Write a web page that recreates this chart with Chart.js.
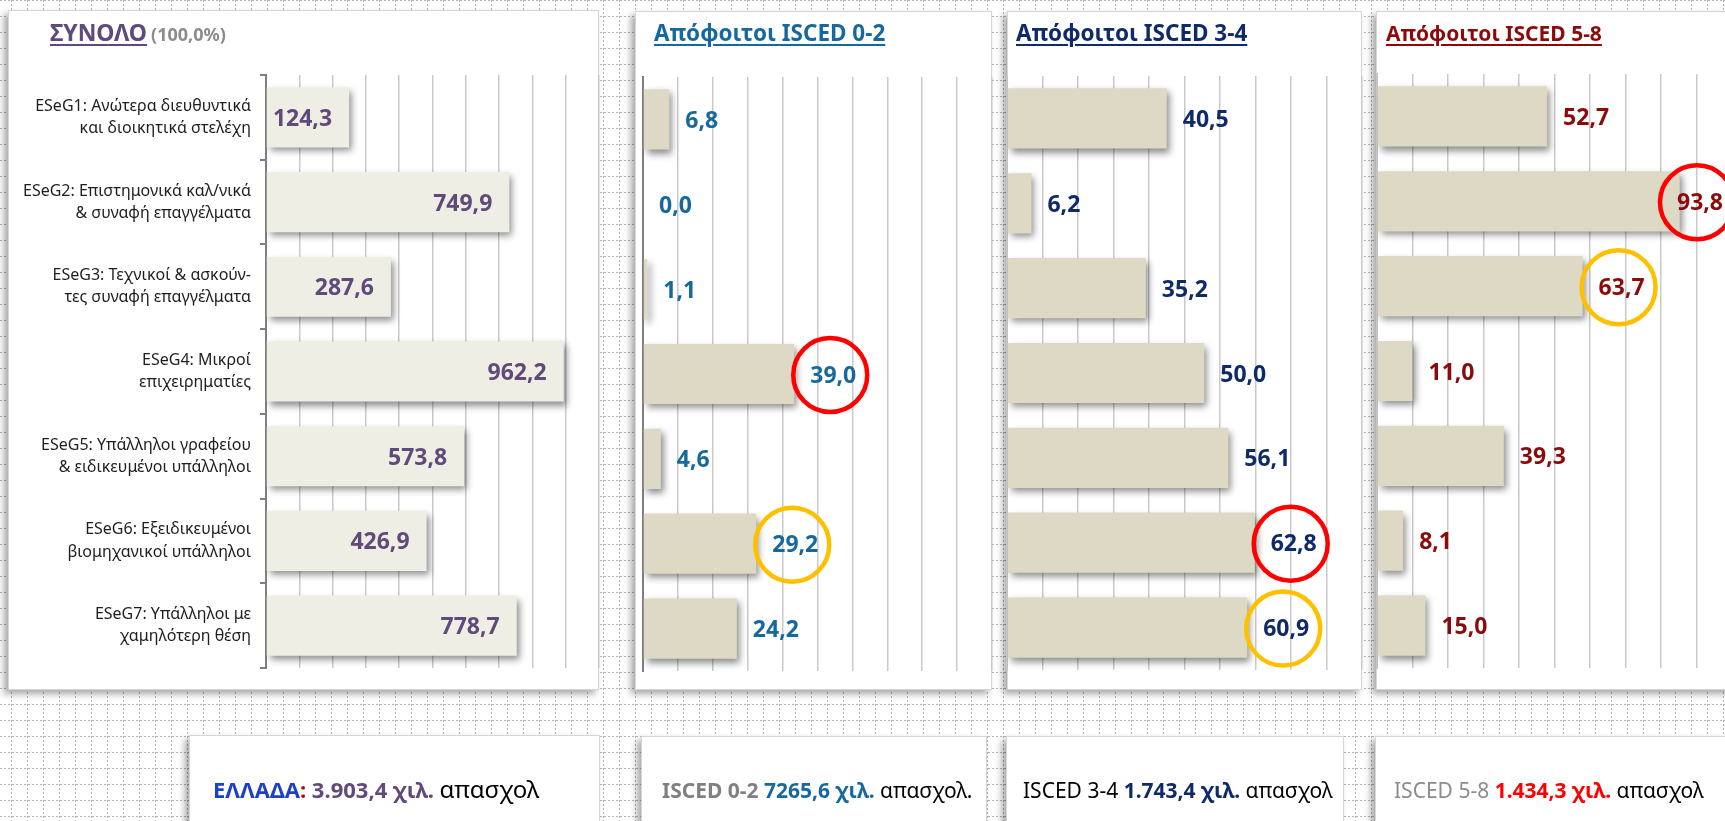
<!DOCTYPE html>
<html lang="el">
<head>
<meta charset="utf-8">
<title>Απασχολούμενοι ανά ομάδα ESeG και επίπεδο εκπαίδευσης</title>
<script src="https://cdn.jsdelivr.net/npm/chart.js@4.4.1/dist/chart.umd.min.js"></script>
<style>
  html, body { margin: 0; padding: 0; }
  body {
    width: 1725px; height: 821px; overflow: hidden; position: relative;
    background: #fff; font-family: "Noto Sans", "Open Sans", sans-serif;
  }
  #dots { position: absolute; left: 0; top: 0; }
  .panel, .box {
    position: absolute; background: #fff; box-sizing: border-box;
    border: 1px solid #d6d6d6;
    box-shadow: -4px 4px 7px rgba(0, 0, 0, 0.35);
  }
  .title {
    position: absolute; top: 9px; line-height: 24px; white-space: nowrap;
    font-size: 22.5px; font-weight: 700;
  }
  .title u { text-decoration-thickness: 2px; text-underline-offset: 3px; }
  .title small { font-size: 18px; color: #8c8c8c; margin-left: 4px; }
  canvas.chart { position: absolute; }
  .box .txt {
    position: absolute; top: 39px; white-space: nowrap;
    font-size: 21px; line-height: 28px; color: #000;
  }
</style>
</head>
<body>
<canvas id="dots" width="1725" height="821"></canvas>

<div class="panel" style="left:8px;top:10px;width:591px;height:680px">
  <div class="title" style="left:41px;color:#604a7b;font-size:23px"><u>ΣΥΝΟΛΟ</u><small>(100,0%)</small></div>
</div>
<div class="panel" style="left:635px;top:11px;width:357px;height:679px">
  <div class="title" style="left:18px;color:#17699d"><u>Απόφοιτοι ISCED 0-2</u></div>
</div>
<div class="panel" style="left:1007px;top:11px;width:355px;height:679px">
  <div class="title" style="left:8px;color:#0f2a68"><u>Απόφοιτοι ISCED 3-4</u></div>
</div>
<div class="panel" style="left:1376px;top:11px;width:360px;height:679px">
  <div class="title" style="left:9px;color:#8b0b0b;font-size:21px"><u>Απόφοιτοι ISCED 5-8</u></div>
</div>

<canvas class="chart" id="chTotal" width="592" height="606" style="left:10px;top:68px"></canvas>
<canvas class="chart" id="chLow" width="358" height="607" style="left:638px;top:70px"></canvas>
<canvas class="chart" id="chMid" width="363" height="607" style="left:1003px;top:69px"></canvas>
<canvas class="chart" id="chHigh" width="364" height="607" style="left:1373px;top:67px"></canvas>

<div class="box" style="left:189px;top:735px;width:411px;height:100px">
  <span class="txt" style="left:23px;font-size:22px"><b style="color:#1c3fcc">ΕΛΛΑΔΑ</b><b style="color:#9c1010">:</b>
    <b style="color:#604a7b" id="tot0"></b> <span style="font-size:24px">απασχολ</span></span>
</div>
<div class="box" style="left:641px;top:736px;width:346px;height:100px">
  <span class="txt" style="left:20px"><b style="color:#808080">ISCED 0-2</b>
    <b style="color:#17699d" id="tot1"></b> απασχολ.</span>
</div>
<div class="box" style="left:1006px;top:736px;width:338px;height:100px">
  <span class="txt" style="left:16px">ISCED 3-4 <b style="color:#0f2a68" id="tot2"></b> απασχολ</span>
</div>
<div class="box" style="left:1375px;top:736px;width:360px;height:100px">
  <span class="txt" style="left:18px"><span style="color:#8c8c8c">ISCED 5-8</span>
    <b style="color:#ff0000" id="tot3"></b> απασχολ</span>
</div>

<script>
// ESeG groups (two-line axis labels)
const categories = [
  ['ESeG1: Ανώτερα διευθυντικά', 'και διοικητικά στελέχη'],
  ['ESeG2: Επιστημονικά καλ/νικά', '& συναφή επαγγέλματα'],
  ['ESeG3: Τεχνικοί & ασκούν-', 'τες συναφή επαγγέλματα'],
  ['ESeG4: Μικροί', 'επιχειρηματίες'],
  ['ESeG5: Υπάλληλοι γραφείου', '& ειδικευμένοι υπάλληλοι'],
  ['ESeG6: Εξειδικευμένοι', 'βιομηχανικοί υπάλληλοι'],
  ['ESeG7: Υπάλληλοι με', 'χαμηλότερη θέση']
];

// employed, thousands
const totalEmployed = [124.3, 749.9, 287.6, 962.2, 573.8, 426.9, 778.7];
const iscedLow = [6.8, 0.0, 1.1, 39.0, 4.6, 29.2, 24.2];     // ISCED 0-2
const iscedMid = [40.5, 6.2, 35.2, 50.0, 56.1, 62.8, 60.9];  // ISCED 3-4
const iscedHigh = [52.7, 93.8, 63.7, 11.0, 39.3, 8.1, 15.0]; // ISCED 5-8

// circled groups per panel: [red, yellow]
const ringsLow = [3, 5];
const ringsMid = [5, 6];
const ringsHigh = [1, 2];

const footerTotals = ['3.903,4', '7265,6', '1.743,4', '1.434,3'];
footerTotals.forEach((t, i) => {
  document.getElementById('tot' + i).textContent = t + ' χιλ.';
});

// dotted sheet grid behind the panels
(function () {
  const c = document.getElementById('dots').getContext('2d');
  c.strokeStyle = '#b4b4b4';
  c.lineWidth = 1;
  c.setLineDash([2, 2]);
  c.beginPath();
  for (let x = 11; x < 1725; x += 16) { c.moveTo(x + 0.5, 0); c.lineTo(x + 0.5, 821); }
  for (let y = 0; y < 821; y += 16) { c.moveTo(0, y + 0.5); c.lineTo(1725, y + 0.5); }
  c.stroke();
})();

const fmt = v => v.toFixed(1).replace('.', ',');
const LABEL_FONT = '700 23px "Noto Sans"';

// soft shadow under bars, value labels and hand-drawn rings
const barDecor = {
  id: 'barDecor',
  beforeDatasetsDraw(chart) {
    const ctx = chart.ctx;
    ctx.save();
    ctx.shadowColor = 'rgba(0,0,0,0.45)';
    ctx.shadowBlur = 7;
    ctx.shadowOffsetX = 3;
    ctx.shadowOffsetY = 4;
  },
  afterDatasetsDraw(chart, args, opts) {
    const ctx = chart.ctx;
    ctx.restore();
    const data = chart.data.datasets[0].data;
    const rings = opts.rings || [];
    ctx.save();
    ctx.font = LABEL_FONT;
    chart.getDatasetMeta(0).data.forEach((bar, i) => {
      const text = fmt(data[i]);
      const w = ctx.measureText(text).width;
      let x;
      if (opts.inside) {
        x = bar.x - 17 - w;
      } else {
        x = Math.min(bar.x + 16, chart.chartArea.right - 9 - w);
      }
      const ring = rings.indexOf(i);
      if (ring >= 0) {
        ctx.beginPath();
        ctx.arc(x + 20, bar.y + 1, 37, 0, Math.PI * 2);
        ctx.lineWidth = 4.5;
        ctx.strokeStyle = ring === 0 ? '#ff0000' : '#ffc000';
        ctx.stroke();
      }
      ctx.fillStyle = opts.color;
      ctx.textAlign = 'left';
      ctx.textBaseline = 'alphabetic';
      ctx.fillText(text, x, bar.y + 8.5);
    });
    ctx.restore();
  }
};

function buildChart(id, cfg) {
  const labelsShown = !!cfg.axisWidth;
  return new Chart(document.getElementById(id), {
    type: 'bar',
    data: {
      labels: categories,
      datasets: [{
        data: cfg.values,
        base: cfg.min,   // bars grow from where the category axis crosses
        backgroundColor: cfg.fill,
        borderWidth: 0,
        barPercentage: 0.71,
        categoryPercentage: 1
      }]
    },
    options: {
      indexAxis: 'y',
      responsive: false,
      animation: false,
      layout: { padding: cfg.pad },
      plugins: {
        legend: { display: false },
        tooltip: { enabled: false },
        barDecor: { color: cfg.color, inside: cfg.inside, rings: cfg.rings }
      },
      scales: {
        x: {
          min: cfg.min, max: cfg.max,
          ticks: { display: false, stepSize: cfg.step },
          grid: { color: '#c9c9c9', lineWidth: 1.5, drawTicks: false },
          border: { display: false },
          afterFit: s => { s.height = 0; }
        },
        y: {
          ticks: labelsShown
            ? { color: '#1e1e1e', padding: 9, font: { family: 'Noto Sans', size: 16, lineHeight: 1.38 } }
            : { display: false },
          grid: labelsShown
            ? { drawOnChartArea: false, tickLength: 6, color: '#7f7f7f', lineWidth: 2 }
            : { display: false },
          border: { display: true, color: cfg.axisColor, width: 2 },
          afterFit: s => {
            s.width = cfg.axisWidth || 0;
            s.paddingTop = 0;
            s.paddingBottom = 0;
          }
        }
      }
    },
    plugins: [barDecor]
  });
}

document.fonts.load(LABEL_FONT).then(() => {
  buildChart('chTotal', {
    values: totalEmployed, fill: '#efeee5', color: '#604a7b', inside: true,
    min: -200, max: 1100, step: 130, axisWidth: 256, axisColor: '#7f7f7f',
    pad: { left: 0, right: 3, top: 7, bottom: 6 }
  });
  buildChart('chLow', {
    values: iscedLow, fill: '#ddd9c4', color: '#17699d', rings: ringsLow,
    min: 0, max: 90, step: 9, axisColor: '#7f7f7f',
    pad: { left: 5, right: 4, top: 7, bottom: 6 }
  });
  buildChart('chMid', {
    values: iscedMid, fill: '#ddd9c4', color: '#0f2a68', rings: ringsMid,
    min: 0, max: 90, step: 9, axisColor: '#c4c4c4',
    pad: { left: 4, right: 4, top: 7, bottom: 6 }
  });
  buildChart('chHigh', {
    values: iscedHigh, fill: '#ddd9c4', color: '#8b0b0b', rings: ringsHigh,
    min: 0, max: 110, step: 11, axisColor: '#c4c4c4',
    pad: { left: 4, right: 5, top: 7, bottom: 6 }
  });
});
</script>
</body>
</html>
